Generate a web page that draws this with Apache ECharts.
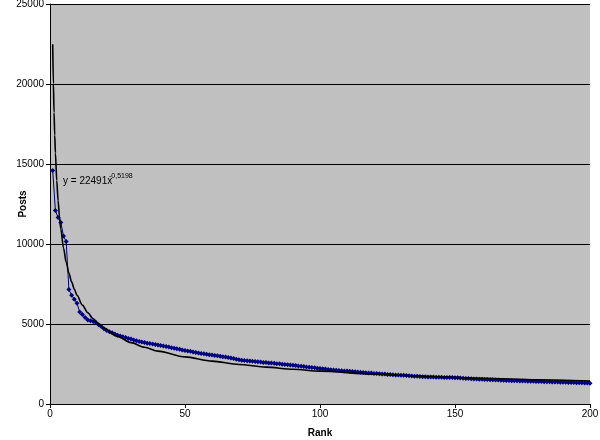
<!DOCTYPE html>
<html>
<head>
<meta charset="utf-8">
<script src="https://cdn.jsdelivr.net/npm/echarts@6/dist/echarts.min.js"></script>
<style>
html,body{margin:0;padding:0;background:#fff;}
#chart{width:600px;height:440px;}
</style>
</head>
<body>
<div id="chart"></div>
<script>
// Posts by rank (ranks 1..200)
var postsByRank = [
  14600, 12100, 11650, 11350, 10500, 10150, 7150, 6800, 6550, 6300,
  5750, 5600, 5400, 5250, 5200, 5150, 5100, 4950, 4850, 4700,
  4600, 4520, 4450, 4380, 4300, 4250, 4200, 4150, 4100, 4060,
  4000, 3950, 3910, 3870, 3840, 3800, 3780, 3750, 3720, 3690,
  3660, 3630, 3590, 3560, 3520, 3480, 3450, 3420, 3380, 3350,
  3320, 3290, 3250, 3220, 3190, 3160, 3140, 3110, 3080, 3060,
  3030, 3010, 2990, 2960, 2930, 2900, 2870, 2840, 2800, 2760,
  2730, 2720, 2700, 2690, 2670, 2660, 2640, 2620, 2600, 2590,
  2570, 2560, 2540, 2520, 2510, 2490, 2470, 2460, 2440, 2420,
  2400, 2380, 2360, 2340, 2320, 2300, 2280, 2260, 2240, 2220,
  2200, 2180, 2160, 2140, 2130, 2110, 2100, 2080, 2070, 2060,
  2050, 2030, 2020, 2000, 1990, 1970, 1960, 1940, 1930, 1910,
  1900, 1890, 1880, 1870, 1850, 1840, 1830, 1820, 1810, 1800,
  1790, 1780, 1770, 1750, 1740, 1730, 1720, 1710, 1700, 1690,
  1685, 1680, 1675, 1670, 1665, 1660, 1655, 1650, 1650, 1645,
  1640, 1630, 1615, 1600, 1590, 1580, 1570, 1560, 1550, 1540,
  1535, 1530, 1520, 1510, 1505, 1500, 1490, 1480, 1475, 1470,
  1460, 1455, 1450, 1445, 1440, 1430, 1425, 1420, 1415, 1410,
  1405, 1400, 1395, 1390, 1385, 1380, 1375, 1370, 1365, 1360,
  1355, 1350, 1345, 1340, 1335, 1330, 1325, 1320, 1310, 1300
];
// Power trendline y = 22491 x^-0.5198, sampled values
var trendX = [1, 1.25, 1.5, 1.75, 2, 2.5, 3, 3.5, 4, 5, 6, 7, 8, 9, 10, 12, 14, 16, 18, 20, 25, 30, 35, 40, 50, 60, 70, 80, 90, 100, 120, 140, 160, 180, 200];
var trendY = [22491, 20029, 18218, 16814, 15688, 13970, 12705, 11727, 10942, 9743, 8862, 8178, 7631, 7177, 6795, 6181, 5704, 5324, 5007, 4739, 4219, 3839, 3545, 3306, 2944, 2677, 2472, 2306, 2168, 2053, 1867, 1723, 1608, 1513, 1432];
var xTicks = [0, 50, 100, 150, 200];
var yTicks = [0, 5000, 10000, 15000, 20000, 25000];
var trendText = "y = 22491x";
var trendExp = "-0,5198";

var dataPts = postsByRank.map(function (v, i) { return [i + 1, v]; });
var trendPts = trendX.map(function (x, i) { return [x, trendY[i]]; });

var chart = echarts.init(document.getElementById('chart'), null, {renderer: 'canvas'});
var font = 'Arial, "Liberation Sans", sans-serif';
chart.setOption({
  animation: false,
  backgroundColor: '#ffffff',
  grid: {left: 50, right: 10, top: 4, bottom: 36, containLabel: false, outerBoundsMode: 'none',
         show: true, backgroundColor: '#C0C0C0', borderWidth: 0},
  xAxis: {
    type: 'value', min: xTicks[0], max: xTicks[xTicks.length - 1], interval: 50,
    name: 'Rank', nameLocation: 'middle', nameGap: 24, nameMoveOverlap: false,
    nameTextStyle: {fontFamily: font, fontSize: 10, fontWeight: 'bold', color: '#000'},
    axisLine: {show: true, lineStyle: {color: '#000', width: 1}},
    axisTick: {show: true, inside: false, length: 4, lineStyle: {color: '#000'}},
    axisLabel: {fontFamily: font, fontSize: 10, color: '#000', margin: 5,
                formatter: function (v) { return String(v); }},
    splitLine: {show: false}
  },
  yAxis: {
    type: 'value', min: yTicks[0], max: yTicks[yTicks.length - 1], interval: 5000,
    name: 'Posts', nameLocation: 'middle', nameGap: 22, nameRotate: 90, nameMoveOverlap: false,
    nameTextStyle: {fontFamily: font, fontSize: 10, fontWeight: 'bold', color: '#000'},
    axisLine: {show: true, lineStyle: {color: '#000', width: 1}},
    axisTick: {show: true, inside: false, length: 4, lineStyle: {color: '#000'}},
    axisLabel: {fontFamily: font, fontSize: 10, color: '#000', margin: 6,
                formatter: function (v) { return String(v); }},
    splitLine: {show: true, lineStyle: {color: '#000', width: 1}}
  },
  series: [
    {
      type: 'line', data: dataPts, symbol: 'diamond', symbolSize: 5,
      itemStyle: {color: '#000080'}, lineStyle: {color: '#000080', width: 1}, z: 2
    },
    {
      type: 'line', data: trendPts, symbol: 'none', smooth: 0.3, smoothMonotone: 'x',
      lineStyle: {color: '#000', width: 1.6}, z: 3
    }
  ],
  graphic: [
    {type: 'text', left: 63, top: 176, z: 10, style: {text: trendText, font: '10px ' + font, fill: '#000'}},
    {type: 'text', left: 109, top: 173, z: 10, style: {text: trendExp, font: '7px ' + font, fill: '#000'}}
  ]
});
</script>
</body>
</html>
